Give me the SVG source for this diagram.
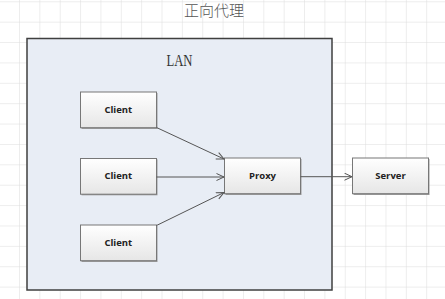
<svg xmlns="http://www.w3.org/2000/svg" width="445" height="299" viewBox="0 0 445 299">
<defs>
<pattern id="grid" x="19" y="1.3" width="20.36" height="20.38" patternUnits="userSpaceOnUse">
<path d="M0,0 V20.38 M0,0 H20.36" fill="none" stroke="#dcdcdc" stroke-width="1"/>
</pattern>
<linearGradient id="boxg" x1="0" y1="0" x2="0" y2="1">
<stop offset="0" stop-color="#ffffff"/>
<stop offset="1" stop-color="#e6e6e6"/>
</linearGradient>
<marker id="arr" markerWidth="10" markerHeight="10" refX="8" refY="4" orient="auto" markerUnits="userSpaceOnUse">
<path d="M0.5,0.5 L8,4 L0.5,7.5" fill="none" stroke="#555" stroke-width="1"/>
</marker>
</defs>
<style>
.box{fill:url(#boxg);stroke:#777;stroke-width:1}
.shadow{fill:#9a9a9a}
.lbl{font-family:"Open Sans","Noto Sans",sans-serif;font-weight:700;font-size:9.5px;fill:#222;text-anchor:middle}
.conn{stroke:#555;stroke-width:1;fill:none;marker-end:url(#arr)}
</style>
<rect x="0" y="0" width="445" height="299" fill="#ffffff"/>
<rect x="0" y="0" width="445" height="299" fill="url(#grid)"/>
<text x="214" y="15.5" font-family="Noto Sans CJK SC, sans-serif" font-size="15" font-weight="300" fill="#555" text-anchor="middle">正向代理</text>
<g id="lan">
<rect x="27" y="38.5" width="305" height="251.5" fill="#e8edf5" stroke="#3f3f3f" stroke-width="1.5"/>
<text x="179.5" y="66" font-family="Liberation Serif, serif" font-size="17" fill="#333" text-anchor="middle" textLength="26" lengthAdjust="spacingAndGlyphs">LAN</text>
</g>
<g id="client1">
<rect class="shadow" x="81.5" y="93" width="76" height="36"/>
<rect class="box" x="80.5" y="92" width="76" height="35.7"/>
<text class="lbl" x="118.3" y="112.8">Client</text>
</g>
<g id="client2">
<rect class="shadow" x="81.5" y="159.3" width="76" height="36"/>
<rect class="box" x="80.5" y="158.5" width="76" height="35.7"/>
<text class="lbl" x="118.3" y="179.3">Client</text>
</g>
<g id="client3">
<rect class="shadow" x="81.5" y="226" width="76" height="36"/>
<rect class="box" x="80.5" y="225" width="76" height="35.7"/>
<text class="lbl" x="118.3" y="245.8">Client</text>
</g>
<g id="proxy">
<rect class="shadow" x="225.5" y="159" width="76" height="36"/>
<rect class="box" x="224.5" y="158" width="76" height="35.7"/>
<text class="lbl" x="262.5" y="178.8">Proxy</text>
</g>
<g id="server">
<rect class="shadow" x="353.5" y="159" width="76" height="36"/>
<rect class="box" x="352.5" y="158" width="76" height="35.7"/>
<text class="lbl" x="390.5" y="178.8">Server</text>
</g>
<g id="connectors">
<line class="conn" x1="156.5" y1="127.5" x2="224" y2="159"/>
<line class="conn" x1="156.5" y1="177" x2="224" y2="177"/>
<line class="conn" x1="156.5" y1="225.5" x2="224" y2="192.5"/>
<line class="conn" x1="300.5" y1="176.7" x2="352" y2="176.7"/>
</g>
</svg>
